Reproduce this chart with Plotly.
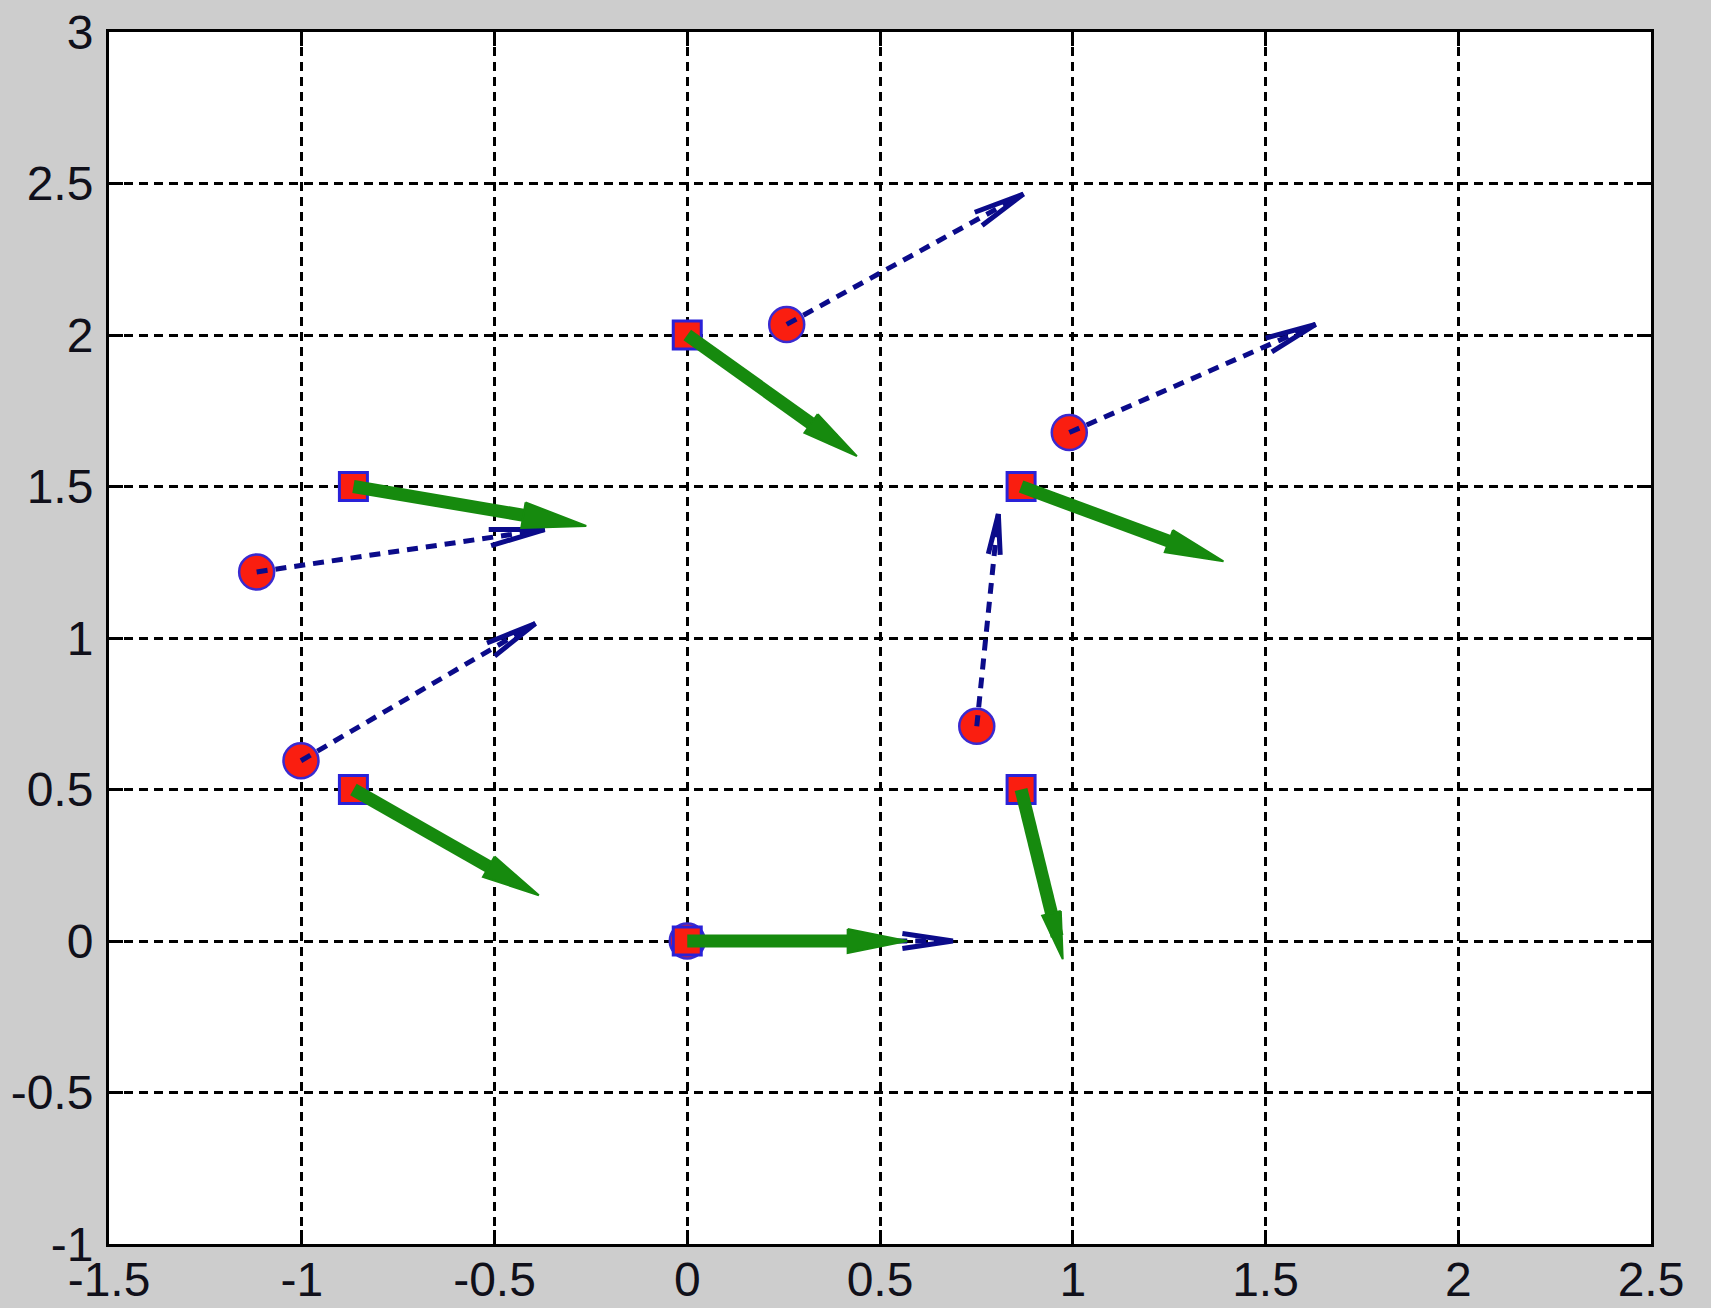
import numpy as np
import plotly.graph_objects as go

# ---------------- data ----------------
square_x = [0.0, 0.0, -0.866, -0.866, 0.866, 0.866]
square_y = [0.0, 2.0, 1.5, 0.5, 1.5, 0.5]
green_u = [0.57, 0.44, 0.604, 0.481, 0.525, 0.108]
green_v = [0.0, -0.40, -0.13, -0.349, -0.247, -0.56]

circle_x = [0.0, 0.258, -1.117, -1.002, 0.991, 0.751]
circle_y = [0.0, 2.035, 1.218, 0.595, 1.678, 0.709]
blue_u = [0.689, 0.614, 0.747, 0.608, 0.639, 0.056]
blue_v = [0.0, 0.43, 0.14, 0.453, 0.357, 0.70]

x_ticks = [-1.5, -1, -0.5, 0, 0.5, 1, 1.5, 2, 2.5]
x_tick_labels = ["-1.5", "-1", "-0.5", "0", "0.5", "1", "1.5", "2", "2.5"]
y_ticks = [-1, -0.5, 0, 0.5, 1, 1.5, 2, 2.5, 3]
y_tick_labels = ["-1", "-0.5", "0", "0.5", "1", "1.5", "2", "2.5", "3"]

# ---------------- layout geometry ----------------
W, H = 1711, 1308
ML, MR, MT, MB = 109, 60, 32, 64
XR = [-1.5, 2.5]
YR = [-1, 3]
SX = (W - ML - MR) / (XR[1] - XR[0])  # px per x unit
SY = (H - MT - MB) / (YR[1] - YR[0])  # px per y unit

BLUE = "#0b0b8a"
GREEN = "#168a0e"
RED = "#fa1e10"


def head_points(x0, y0, u, v, len_frac, w_frac):
    """Arrow-head geometry derived from a vector, computed in pixel space."""
    dx, dy = u * SX, v * SY
    L = np.hypot(dx, dy)
    ux, uy = dx / L, dy / L
    h, w = len_frac * L, w_frac * L
    tx, ty = x0 + u, y0 + v
    bx, by = tx - h * ux / SX, ty - h * uy / SY
    lx, ly = bx + (-uy) * w / SX, by + ux * w / SY
    rx, ry = bx - (-uy) * w / SX, by - ux * w / SY
    return (tx, ty), (bx, by), (lx, ly), (rx, ry)


fig = go.Figure()

# circles
fig.add_trace(go.Scatter(
    x=circle_x, y=circle_y, mode="markers",
    marker=dict(symbol="circle", size=35, color=RED,
                line=dict(color="#3a2ad0", width=2.5)),
    showlegend=False, hoverinfo="skip"))

# blue dashed arrows
bsx, bsy, bhx, bhy = [], [], [], []
for x0, y0, u, v in zip(circle_x, circle_y, blue_u, blue_v):
    (tx, ty), (bx, by), (lx, ly), (rx, ry) = head_points(x0, y0, u, v, 0.19, 0.028)
    bsx += [x0, tx, None]
    bsy += [y0, ty, None]
    bhx += [lx, tx, rx, None]
    bhy += [ly, ty, ry, None]
fig.add_trace(go.Scatter(x=bsx, y=bsy, mode="lines",
                         line=dict(color=BLUE, width=5, dash="11px,8px"),
                         showlegend=False, hoverinfo="skip"))
fig.add_trace(go.Scatter(x=bhx, y=bhy, mode="lines",
                         line=dict(color=BLUE, width=5),
                         showlegend=False, hoverinfo="skip"))

# squares
fig.add_trace(go.Scatter(
    x=square_x, y=square_y, mode="markers",
    marker=dict(symbol="square", size=28, color=RED,
                line=dict(color="#2a22d8", width=3)),
    showlegend=False, hoverinfo="skip"))

# green thick arrows
gsx, gsy, ghx, ghy = [], [], [], []
for x0, y0, u, v in zip(square_x, square_y, green_u, green_v):
    (tx, ty), (bx, by), (lx, ly), (rx, ry) = head_points(x0, y0, u, v, 0.27, 0.055)
    mx, my = (bx + tx) / 2, (by + ty) / 2
    gsx += [x0, mx, None]
    gsy += [y0, my, None]
    ghx += [lx, tx, rx, lx, None]
    ghy += [ly, ty, ry, ly, None]
fig.add_trace(go.Scatter(x=gsx, y=gsy, mode="lines",
                         line=dict(color=GREEN, width=13),
                         showlegend=False, hoverinfo="skip"))
fig.add_trace(go.Scatter(x=ghx, y=ghy, mode="lines", fill="toself",
                         fillcolor=GREEN,
                         line=dict(color=GREEN, width=2),
                         showlegend=False, hoverinfo="skip"))

axis_common = dict(
    showgrid=True, gridcolor="black", gridwidth=2.5, griddash="9px,6px",
    zeroline=False, showline=True, linecolor="black", linewidth=3,
    mirror="ticks", ticks="inside", ticklen=14, tickwidth=3, tickcolor="black",
    automargin=False,
    tickfont=dict(family="Liberation Sans, Arial, sans-serif", size=48, color="#10101a"),
)

fig.update_xaxes(range=XR, tickvals=x_ticks, ticktext=x_tick_labels,
                 ticklabelstandoff=-9, **axis_common)
fig.update_yaxes(range=YR, tickvals=y_ticks, ticktext=y_tick_labels,
                 ticklabelstandoff=3, **axis_common)

fig.update_layout(
    width=W, height=H,
    margin=dict(l=ML, r=MR, t=MT, b=MB, pad=0),
    paper_bgcolor="#cdcdcd", plot_bgcolor="white",
    showlegend=False,
)

fig.write_html("out.html",
               config={"displayModeBar": False},
               post_script="document.body.style.margin='0';"
                           "document.body.style.background='#cdcdcd';")
